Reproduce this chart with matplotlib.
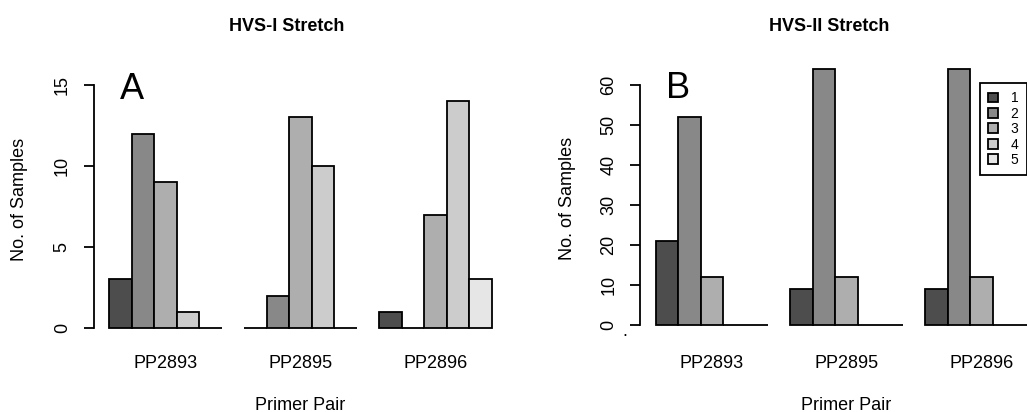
import matplotlib
matplotlib.use("Agg")
import matplotlib.pyplot as plt

# ---- data ----
groups = ["PP2893", "PP2895", "PP2896"]
levels = ["1", "2", "3", "4", "5"]
colors = ["#4D4D4D", "#888888", "#AEAEAE", "#CCCCCC", "#E6E6E6"]

# HVS-I stretch: counts per level (rows) for each primer pair (columns)
hvs1_l1 = [3, 0, 1]
hvs1_l2 = [12, 2, 0]
hvs1_l3 = [9, 13, 7]
hvs1_l4 = [1, 10, 14]
hvs1_l5 = [0, 0, 3]

# HVS-II stretch
hvs2_l1 = [21, 9, 9]
hvs2_l2 = [52, 64, 64]
hvs2_l3 = [12, 12, 12]
hvs2_l4 = [0, 0, 0]
hvs2_l5 = [0, 0, 0]

hvs1 = [hvs1_l1, hvs1_l2, hvs1_l3, hvs1_l4, hvs1_l5]
hvs2 = [hvs2_l1, hvs2_l2, hvs2_l3, hvs2_l4, hvs2_l5]

yticks1 = [0, 5, 10, 15]
yticks2 = [0, 10, 20, 30, 40, 50, 60]

plt.rcParams["font.family"] = ["Liberation Sans", "DejaVu Sans"]

W, H = 1027, 412
fig = plt.figure(figsize=(W / 100, H / 100), dpi=100)


def fx(x):
    return x / W


def fy(y):
    return 1 - y / H


def panel(rect, data, ylim, yticks):
    ax = fig.add_axes(rect)
    nlev = len(data)
    step = nlev + 1
    bars = []
    for i, vals in enumerate(data):
        xs = [1 + step * g + i for g in range(len(vals))]
        b = ax.bar(xs, vals, width=1, align="edge", color=colors[i],
                   edgecolor="black", linewidth=1.3, label=levels[i],
                   clip_on=False)
        bars.append(b)
    ax.set_xlim(0.32, 18.68)
    ax.set_ylim(*ylim)
    for s in ["top", "right", "bottom"]:
        ax.spines[s].set_visible(False)
    ax.spines["left"].set_bounds(yticks[0], yticks[-1])
    ax.spines["left"].set_linewidth(1.3)
    ax.set_yticks(yticks)
    ax.set_yticklabels([str(t) for t in yticks])
    ax.tick_params(axis="y", length=7.5, width=1.3, pad=9, labelsize=13,
                   labelrotation=90)
    for lbl in ax.get_yticklabels():
        lbl.set_va("center")
    centers = [1 + step * g + nlev / 2 for g in range(len(groups))]
    ax.set_xticks(centers)
    ax.set_xticklabels(groups, fontsize=13)
    return ax, bars


# panel A
axA, barsA = panel([fx(93.7), 74.3 / H, 413.1 / W, 262.4 / H], hvs1,
                   (-0.6, 15.6), yticks1)
axA.tick_params(axis="x", length=0, pad=12.8)
axA.set_xlabel("Primer Pair", fontsize=13)
axA.xaxis.set_label_coords(0.5, -(397 - 337.7) / 262.4)

# panel B
axB, barsB = panel([fx(640.4), 77.4 / H, 412.3 / W, 259.2 / H], hvs2,
                   (-2.4, 62.4), yticks2)
axB.tick_params(axis="x", length=0, pad=15.0)
axB.set_xlabel("Primer Pair", fontsize=13)
axB.xaxis.set_label_coords(0.5, -(397 - 334.6) / 259.2)

# y labels
fig.text(fx(20), fy(199), "No. of Samples", rotation=90, ha="center",
         va="center", fontsize=13)
fig.text(fx(568), fy(198), "No. of Samples", rotation=90, ha="center",
         va="center", fontsize=13)

# titles
fig.text(fx(287), fy(31), "HVS-I Stretch", ha="center", va="baseline",
         fontsize=13, fontweight="bold")
fig.text(fx(829), fy(31), "HVS-II Stretch", ha="center", va="baseline",
         fontsize=13, fontweight="bold")

# panel letters
fig.text(fx(132), fy(99), "A", ha="center", va="baseline", fontsize=26)
fig.text(fx(678), fy(98), "B", ha="center", va="baseline", fontsize=26)

# stray dot
fig.text(fx(625), fy(336), ".", ha="center", va="baseline", fontsize=13)

# legend
handles = [b[0] for b in barsB]
leg = fig.legend(handles, levels, loc="upper left",
                 bbox_to_anchor=(fx(980), fy(83)), borderaxespad=0,
                 fontsize=10, frameon=True, fancybox=False, framealpha=1,
                 edgecolor="black", handlelength=0.7, handleheight=0.7,
                 handletextpad=0.9, labelspacing=0.1, borderpad=0.6)
leg.get_frame().set_linewidth(1.3)

fig.savefig("out.png", dpi=100)
